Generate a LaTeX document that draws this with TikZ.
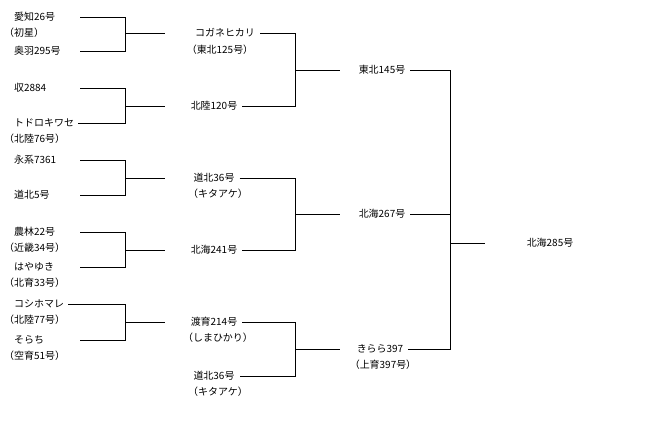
\documentclass[tikz,border=0pt]{standalone}
\usepackage{fontspec}
\setmainfont{Noto Sans CJK JP}
\usetikzlibrary{positioning,calc}
\tikzset{
  lbl/.style={inner sep=0pt,font=\fontsize{10}{12}\selectfont},
  leaf/.style={lbl,anchor=west},
  link/.style={line width=0.7pt}
}
\begin{document}
\begin{tikzpicture}[x=1bp,y=-1bp]
\useasboundingbox (0,0) rectangle (670,420);
% columns of line ends
\coordinate (s0) at (80,0);
\coordinate (j1) at (125,0);
\coordinate (s1) at (165,0);
\coordinate (e1) at (250,0);
\coordinate (j2) at (295,0);
\coordinate (s2) at (340,0);
\coordinate (j3) at (450,0);
\coordinate (s3) at (485,0);
% parents
\node[leaf] (a1) at (14,17) {愛知26号};
\node[leaf] at (4,33) {（初星）};
\node[leaf] (a2) at (14,51) {奥羽295号};
\node[leaf] (b1) at (14,88) {収2884};
\node[leaf] (b2) at (14,123) {トドロキワセ};
\node[leaf] at (4,139) {（北陸76号）};
\node[leaf] (c1) at (14,160) {永系7361};
\node[leaf] (c2) at (14,195) {道北5号};
\node[leaf] (d1) at (14,232) {農林22号};
\node[leaf] at (4,248) {（近畿34号）};
\node[leaf] (d2) at (14,267) {はやゆき};
\node[leaf] at (4,283) {（北育33号）};
\node[leaf] (f1) at (14,304) {コシホマレ};
\node[leaf] at (4,320) {（北陸77号）};
\node[leaf] (f2) at (14,340) {そらち};
\node[leaf] at (4,356) {（空育51号）};
% second column
\node[lbl] (a) at (225,33) {コガネヒカリ};
\node[lbl] at (220,50) {（東北125号）};
\node[lbl] (b) at (214,106) {北陸120号};
\node[lbl] (c) at (214,178) {道北36号};
\node[lbl] at (218,194) {（キタアケ）};
\node[lbl] (d) at (214,250) {北海241号};
\node[lbl] (f) at (214,322) {渡育214号};
\node[lbl] at (218,338) {（しまひかり）};
\node[lbl] (g) at (214,376) {道北36号};
\node[lbl] at (218,392) {（キタアケ）};
% third and fourth columns
\node[lbl] (ab) at (382,70) {東北145号};
\node[lbl] (cd) at (382,214) {北海267号};
\node[lbl] (fg) at (380,349) {きらら397};
\node[lbl] at (383,365) {（上育397号）};
\node[lbl] (all) at (550,243) {北海285号};
% crosses
\foreach \p/\q/\r in {a1/a2/a,b1/b2/b,c1/c2/c,d1/d2/d,f1/f2/f}{
  \draw[link] (s0 |- \p) -- (j1 |- \p) -- (j1 |- \q) -- (s0 |- \q);
  \draw[link] (j1 |- \r) -- (s1 |- \r);
}
\draw[link] ([xshift=4bp]b2.east) -- (j1 |- b2);
\draw[link] ([xshift=4bp]f1.east) -- (j1 |- f1);
\foreach \p/\q/\r in {a/b/ab,c/d/cd,f/g/fg}{
  \draw[link] ([xshift=5bp]\p.east) -- (j2 |- \p) -- (j2 |- \q) -- ([xshift=5bp]\q.east);
  \draw[link] (j2 |- \r) -- (s2 |- \r);
}
\draw[link] ([xshift=5bp]ab.east) -- (j3 |- ab) -- (j3 |- fg) -- ([xshift=5bp]fg.east);
\draw[link] ([xshift=5bp]cd.east) -- (j3 |- cd);
\draw[link] (j3 |- all) -- (s3 |- all);
\end{tikzpicture}
\end{document}
